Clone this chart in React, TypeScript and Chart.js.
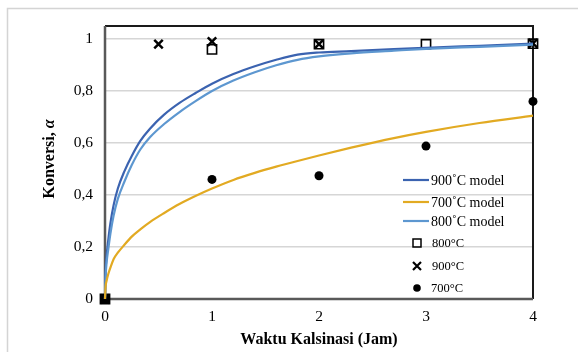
import React, { useEffect, useRef } from "react";
import { Chart, registerables } from "chart.js";

Chart.register(...registerables);

const modelTimes = [0, 0.005, 0.015, 0.03, 0.05, 0.08, 0.12, 0.18, 0.25, 0.33, 0.42, 0.55, 0.7, 0.85, 1.0, 1.2, 1.4, 1.6, 1.8, 2.0, 2.3, 2.7, 3.0, 3.5, 4.0];
const model900 = [0, 0.1, 0.165, 0.225, 0.29, 0.36, 0.425, 0.49, 0.55, 0.608, 0.655, 0.708, 0.755, 0.793, 0.828, 0.865, 0.895, 0.92, 0.94, 0.948, 0.953, 0.961, 0.966, 0.974, 0.982];
const model800 = [0, 0.08, 0.14, 0.19, 0.25, 0.32, 0.385, 0.45, 0.515, 0.575, 0.622, 0.672, 0.72, 0.762, 0.8, 0.84, 0.872, 0.899, 0.92, 0.933, 0.945, 0.955, 0.962, 0.97, 0.978];
const model700 = [0, 0.045, 0.07, 0.095, 0.12, 0.153, 0.178, 0.208, 0.24, 0.268, 0.296, 0.33, 0.366, 0.397, 0.425, 0.458, 0.485, 0.509, 0.531, 0.552, 0.582, 0.619, 0.643, 0.677, 0.705];

const times800 = [0, 1, 2, 3, 4];
const exp800 = [0, 0.96, 0.98, 0.98, 0.982];
const times900 = [0, 0.5, 1, 2, 4];
const exp900 = [0, 0.98, 0.99, 0.98, 0.983];
const times700 = [0, 1, 2, 3, 4];
const exp700 = [0, 0.46, 0.474, 0.588, 0.76];

const xTicks = [0, 1, 2, 3, 4];
const yTicks = [0, 0.2, 0.4, 0.6, 0.8, 1];

const xTitle = "Waktu Kalsinasi (Jam)";
const yTitleMain = "Konversi, ";
const yTitleSym = "α";

const legendLabels = ["900˚C model", "700˚C model", "800˚C model", "800°C", "900°C", "700°C"];

const C900 = "#3b63b0";
const C800 = "#5d97d0";
const C700 = "#e2aa22";

const pts = (xs: number[], ys: number[]) => xs.map((x, i) => ({ x, y: ys[i] }));

const SERIF = "'Liberation Serif', 'Times New Roman', serif";

export default function App() {
  const ref = useRef<HTMLCanvasElement | null>(null);

  useEffect(() => {
    document.body.style.margin = "0";
    document.body.style.overflow = "hidden";
    const canvas = ref.current!;

    const decor = {
      id: "decor",
      beforeDraw(chart: any) {
        const ctx = chart.ctx;
        ctx.save();
        ctx.fillStyle = "#ffffff";
        ctx.fillRect(0, 0, chart.width, chart.height);
        ctx.strokeStyle = "#d4d4d4";
        ctx.lineWidth = 1.5;
        ctx.beginPath();
        ctx.moveTo(7.5, chart.height);
        ctx.lineTo(7.5, 8.5);
        ctx.lineTo(chart.width, 8.5);
        ctx.stroke();
        ctx.restore();
      },
      beforeDatasetsDraw(chart: any) {
        const { ctx, chartArea: a } = chart;
        ctx.save();
        ctx.lineWidth = 2;
        ctx.strokeStyle = "#1a1a1a";
        ctx.beginPath();
        ctx.moveTo(a.left, a.top);
        ctx.lineTo(a.right, a.top);
        ctx.lineTo(a.right, a.bottom);
        ctx.stroke();
        ctx.strokeStyle = "#595959";
        ctx.lineWidth = 2.5;
        ctx.beginPath();
        ctx.moveTo(a.left, a.top);
        ctx.lineTo(a.left, a.bottom);
        ctx.lineTo(a.right, a.bottom);
        ctx.stroke();
        ctx.restore();
      },
      afterDraw(chart: any) {
        const { ctx, chartArea: a } = chart;
        ctx.save();
        ctx.fillStyle = "#000";
        ctx.font = `bold 16px ${SERIF}`;
        ctx.textAlign = "center";
        ctx.textBaseline = "middle";
        ctx.fillText(xTitle, (a.left + a.right) / 2, 340);
        ctx.translate(50, 159);
        ctx.rotate(-Math.PI / 2);
        ctx.font = `bold 16px ${SERIF}`;
        const w1 = ctx.measureText(yTitleMain).width;
        ctx.font = `italic bold 16px ${SERIF}`;
        const w2 = ctx.measureText(yTitleSym).width;
        const start = -(w1 + w2) / 2;
        ctx.textAlign = "left";
        ctx.font = `bold 16px ${SERIF}`;
        ctx.fillText(yTitleMain, start, 0);
        ctx.font = `italic bold 16px ${SERIF}`;
        ctx.fillText(yTitleSym, start + w1, 0);
        ctx.restore();

        ctx.save();
        ctx.textAlign = "left";
        ctx.textBaseline = "middle";
        const rowsY = [180, 202, 221, 243, 266, 288];
        const lineColors = [C900, C700, C800];
        for (let i = 0; i < 3; i++) {
          ctx.strokeStyle = lineColors[i];
          ctx.lineWidth = 2.2;
          ctx.beginPath();
          ctx.moveTo(403, rowsY[i]);
          ctx.lineTo(429, rowsY[i]);
          ctx.stroke();
          ctx.fillStyle = "#000";
          ctx.font = `14px ${SERIF}`;
          ctx.fillText(legendLabels[i], 431, rowsY[i] + 1);
        }
        ctx.strokeStyle = "#000";
        ctx.lineWidth = 1.5;
        ctx.strokeRect(413, rowsY[3] - 4, 8, 8);
        ctx.lineWidth = 2.2;
        ctx.beginPath();
        ctx.moveTo(413, rowsY[4] - 4);
        ctx.lineTo(421, rowsY[4] + 4);
        ctx.moveTo(421, rowsY[4] - 4);
        ctx.lineTo(413, rowsY[4] + 4);
        ctx.stroke();
        ctx.fillStyle = "#000";
        ctx.beginPath();
        ctx.arc(417, rowsY[5], 3.8, 0, Math.PI * 2);
        ctx.fill();
        ctx.font = `12.5px ${SERIF}`;
        ctx.fillText(legendLabels[3], 432, rowsY[3] + 1);
        ctx.fillText(legendLabels[4], 432, rowsY[4] + 1);
        ctx.fillText(legendLabels[5], 431, rowsY[5] + 1);
        ctx.restore();
      },
    };

    const lineDs = (label: string, ys: number[], color: string) => ({
      label,
      data: pts(modelTimes, ys),
      showLine: true,
      borderColor: color,
      backgroundColor: color,
      borderWidth: 2.2,
      pointRadius: 0,
      cubicInterpolationMode: "monotone" as const,
      clip: false as any,
    });

    const chart = new Chart(canvas, {
      type: "scatter",
      data: {
        datasets: [
          lineDs(legendLabels[1], model700, C700),
          lineDs(legendLabels[2], model800, C800),
          lineDs(legendLabels[0], model900, C900),
          {
            label: legendLabels[5],
            data: pts(times700, exp700),
            pointStyle: "circle",
            pointRadius: 4.5,
            backgroundColor: "#000",
            borderColor: "#000",
            borderWidth: 0,
            clip: false as any,
          },
          {
            label: legendLabels[3],
            data: pts(times800, exp800),
            pointStyle: "rect",
            pointRadius: 6.5,
            backgroundColor: "rgba(255,255,255,0)",
            borderColor: "#000",
            borderWidth: 1.6,
            clip: false as any,
          },
          {
            label: legendLabels[4],
            data: pts(times900, exp900),
            pointStyle: "crossRot",
            pointRadius: 6,
            borderColor: "#000",
            borderWidth: 2.5,
            clip: false as any,
          },
        ],
      },
      options: {
        responsive: false,
        animation: false,
        events: [],
        layout: { padding: { left: 0, right: 45, top: 26, bottom: 0 } },
        plugins: {
          legend: { display: false },
          tooltip: { enabled: false },
          title: { display: false },
        },
        scales: {
          x: {
            type: "linear",
            min: 0,
            max: 4,
            border: { display: false },
            grid: { display: false, drawTicks: false },
            afterBuildTicks: (s: any) => {
              s.ticks = xTicks.map((v) => ({ value: v }));
            },
            afterFit: (s: any) => {
              s.height = 53;
            },
            ticks: {
              padding: 9,
              color: "#000",
              font: { family: SERIF, size: 15.5 },
              callback: (v: any) => String(v),
              maxRotation: 0,
            },
          },
          y: {
            type: "linear",
            min: 0,
            max: 1.05,
            border: { display: false },
            grid: { color: "#d6d6d6", lineWidth: 1.5, drawTicks: false },
            afterBuildTicks: (s: any) => {
              s.ticks = yTicks.map((v) => ({ value: v }));
            },
            afterFit: (s: any) => {
              s.width = 105;
            },
            ticks: {
              padding: 12,
              color: "#000",
              font: { family: SERIF, size: 15.5 },
              callback: (v: any) => String(Math.round(Number(v) * 10) / 10).replace(".", ","),
            },
          },
        },
      },
      plugins: [decor],
    });

    return () => chart.destroy();
  }, []);

  return (
    <div style={{ width: 578, height: 352, position: "relative" }}>
      <canvas ref={ref} width={578} height={352} style={{ display: "block" }} />
    </div>
  );
}
